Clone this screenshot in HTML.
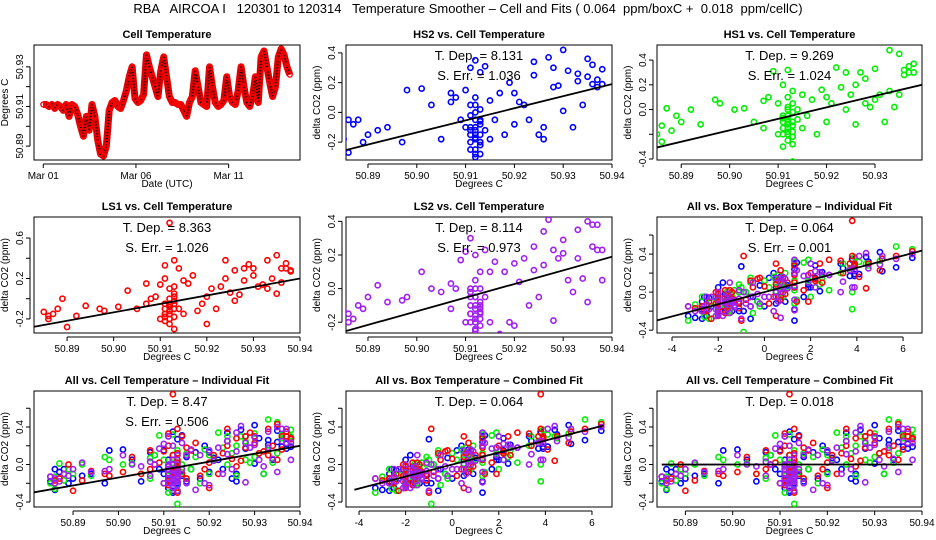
<!DOCTYPE html>
<html><head><meta charset="utf-8"><style>
html,body{margin:0;padding:0;background:#fff;}
svg{display:block;font-family:"Liberation Sans",sans-serif;}
</style></head><body>
<svg id="chart" width="936" height="540" viewBox="0 0 936 540">
<text x="468" y="13" text-anchor="middle" font-size="13" xml:space="preserve">RBA   AIRCOA I   120301 to 120314   Temperature Smoother – Cell and Fits ( 0.064  ppm/boxC +  0.018  ppm/cellC)</text>
</svg>
<script>
// ---- data ----
const cellTempSeries = [
50.911,50.911,50.910,50.911,50.909,50.911,
50.910,50.908,50.911,50.905,50.911,50.910,
50.906,50.900,50.895,50.905,50.898,50.911,
50.905,50.893,50.886,50.885,50.890,50.908,
50.912,50.913,50.910,50.909,50.913,50.918,
50.925,50.930,50.914,50.912,50.913,50.916,
50.936,50.930,50.925,50.920,50.915,50.928,
50.935,50.925,50.915,50.912,50.912,50.911,
50.911,50.908,50.905,50.912,50.915,50.928,
50.920,50.912,50.911,50.910,50.930,50.920,
50.912,50.910,50.911,50.913,50.925,50.915,
50.912,50.911,50.918,50.930,50.920,50.912,
50.910,50.915,50.925,50.912,50.935,50.938,
50.930,50.922,50.915,50.920,50.935,50.939,
50.936,50.930,50.926];
const seriesStepDays = 13.3/86;
const dateTicks = [0,5,10];
const dateTickLabels = ["Mar 01","Mar 06","Mar 11"];
const cellT = [
50.885,50.886,50.886,50.887,50.888,50.889,50.890,50.892,50.894,50.897,50.898,50.901,50.903,50.905,50.907,50.907,50.908,50.909,
50.910,50.910,50.911,50.911,50.911,50.912,50.912,50.912,50.912,50.913,50.913,50.913,50.913,50.914,50.914,50.915,50.915,50.916,
50.917,50.918,50.919,50.920,50.920,50.921,50.922,50.923,50.924,50.924,50.925,50.926,50.926,50.927,50.928,50.928,50.929,50.930,
50.930,50.931,50.932,50.933,50.933,50.934,50.935,50.935,50.936,50.936,50.937,50.937,50.938,50.938,
50.911,50.911,50.911,50.912,50.912,50.912,50.912,50.912,50.913,50.913,50.913,50.913,50.912,50.911,50.912,50.913,50.912,50.911,50.912,50.913];
const boxT = [-2.5,-3.0,-2.6,-1.6,-1.6,-1.4,-2.3,-1.1,-1.4,-1.1,0.2,0.7,0.5,-1.6,0.7,-0.2,0.8,1.7,
-2.7,2.2,3.3,-3.3,2.0,-0.6,3.8,1.3,-1.8,-0.9,-1.0,-0.5,-0.6,1.4,0.5,1.9,-2.7,0.8,
0.7,-1.5,0.4,0.5,-1.5,1.0,1.9,0.6,3.8,3.4,0.0,1.3,0.9,4.4,3.7,1.3,2.8,5.0,
2.4,2.2,-0.3,5.7,2.5,1.3,6.4,1.3,4.5,4.1,5.1,3.9,3.9,3.9,
-2.0,-2.7,-1.4,-2.5,-2.1,-0.8,-2.1,-2.0,-2.0,-2.0,-1.3,-1.6,-2.7,-1.7,-1.3,-1.7,-2.0,-1.6,-1.7,-2.4];
const hs2 = [-0.18,-0.27,-0.05,-0.08,-0.05,-0.2,-0.15,-0.12,-0.1,-0.2,0.15,0.16,0.05,-0.18,0.13,0.07,0.1,-0.05,
-0.1,0.15,0.3,-0.25,0.05,-0.15,0.35,-0.3,0.1,-0.2,0.27,-0.05,-0.28,0.31,-0.12,0.08,-0.18,-0.05,
0.13,-0.15,0.2,0.13,-0.08,0.07,0.05,-0.05,0.34,0.25,-0.15,-0.18,-0.1,0.37,0.17,0.3,0.18,0.42,
0.01,0.28,-0.1,0.26,0.21,0.05,0.36,0.24,0.32,0.19,0.22,0.17,0.29,0.19,
-0.2,-0.15,-0.1,-0.25,-0.05,0.0,-0.12,-0.18,-0.22,-0.08,0.02,-0.15,-0.28,-0.02,-0.1,-0.2,0.05,-0.12,-0.17,-0.06];
const hs1 = [-0.2,-0.13,-0.26,0.01,-0.17,-0.05,-0.1,0.0,-0.12,0.08,0.05,0.0,0.01,-0.1,0.07,-0.15,0.1,0.31,
-0.2,0.05,0.2,-0.3,-0.05,0.1,-0.18,0.32,-0.1,-0.42,0.05,-0.22,0.15,-0.08,0.0,0.12,-0.15,-0.05,
0.08,-0.2,0.16,0.1,-0.1,0.05,0.34,0.18,0.0,0.3,0.12,-0.12,0.2,0.3,0.25,0.05,0.02,0.33,
0.08,0.12,-0.1,0.48,0.15,0.02,0.45,0.12,0.28,0.32,0.35,0.3,0.37,0.3,
-0.1,-0.2,-0.05,-0.15,-0.25,0.0,-0.12,-0.08,-0.18,-0.02,-0.1,-0.22,-0.05,-0.15,0.02,-0.13,-0.2,-0.07,-0.1,-0.28];
const ls1 = [-0.13,-0.17,-0.2,-0.15,-0.1,0.0,-0.28,-0.17,-0.07,-0.1,-0.12,-0.08,0.08,-0.1,-0.05,0.15,0.0,0.02,
-0.2,0.14,0.33,-0.15,0.2,-0.05,0.75,0.1,-0.2,0.38,-0.3,0.05,0.12,-0.1,0.3,0.18,-0.15,0.15,
0.23,-0.12,-0.05,-0.25,0.02,0.1,-0.1,0.12,0.38,0.2,0.06,0.28,-0.02,0.04,0.3,0.18,0.34,0.23,
0.3,0.12,0.14,0.38,0.1,0.2,0.43,0.05,0.3,0.16,0.35,0.3,0.28,0.27,
-0.05,-0.15,-0.1,-0.2,0.0,-0.08,-0.12,-0.25,-0.02,-0.18,-0.1,-0.05,-0.15,-0.22,-0.08,0.02,-0.12,-0.18,-0.06,-0.1];
const ls2 = [-0.13,-0.2,-0.15,-0.18,-0.1,-0.12,-0.05,0.02,-0.08,-0.07,-0.05,0.1,0.0,-0.02,0.03,-0.12,0.0,0.17,
-0.2,0.22,0.0,-0.15,0.3,-0.05,0.05,0.2,-0.25,0.0,-0.28,0.1,-0.15,0.23,-0.05,0.1,-0.2,0.16,
-0.27,0.1,-0.2,0.15,-0.22,0.04,0.18,-0.1,0.25,0.11,-0.05,0.34,0.14,0.41,0.23,-0.19,0.18,0.29,
0.21,0.05,-0.02,0.35,0.18,0.06,0.4,-0.08,0.25,0.38,0.38,0.23,0.05,0.23,
-0.15,-0.2,-0.1,-0.05,-0.25,-0.12,-0.18,0.0,-0.08,-0.22,-0.14,-0.1,-0.2,-0.05,-0.16,-0.12,-0.24,-0.02,-0.1,-0.18];
const cellTicks = [50.89,50.90,50.91,50.92,50.93,50.94];
const boxTicks = [-4,-2,0,2,4,6];
const fitSlopes = [8.131, 9.269, 8.363, 8.114, 0.064, 8.47, 0.064, 0.018];
const fitErrors = [1.036, 1.024, 1.026, 0.973, 0.001, 0.506];

const NS="http://www.w3.org/2000/svg";
const svg=document.getElementById('chart');
function mk(tag,attrs,parent){const e=document.createElementNS(NS,tag);for(const k in attrs)e.setAttribute(k,attrs[k]);(parent||svg).appendChild(e);return e;}
function scale(d0,d1,r0,r1){return v=>r0+(v-d0)/(d1-d0)*(r1-r0);}

function frame(g,b,title,name){
  const r=mk('rect',{x:b[0],y:b[1],width:b[2]-b[0],height:b[3]-b[1],fill:'none',stroke:'#000','stroke-width':1},g);
  
  
  const t=mk('text',{x:(b[0]+b[2])/2,y:b[1]-7,'text-anchor':'middle','font-size':11,'font-weight':'bold'},g);
  t.textContent=title;
  
  
}
function xAxis(g,b,xs,ticks,labels,title,name){
  const y=b[3]+4;
  const ax=mk('g',{},g);
  
  
  const vis=ticks.filter(t=>xs(t)>=b[0]-1&&xs(t)<=b[2]+1);
  mk('line',{x1:xs(vis[0]),x2:xs(vis[vis.length-1]),y1:y,y2:y,stroke:'#000'},ax);
  ticks.forEach((t,i)=>{const x=xs(t);if(x<b[0]-1||x>b[2]+1)return;
    mk('line',{x1:x,x2:x,y1:y,y2:y+4,stroke:'#000'},ax);
    const tx=mk('text',{x:x,y:y+15,'text-anchor':'middle','font-size':10},ax);tx.textContent=labels[i];
    
    });
  const tt=mk('text',{x:(b[0]+b[2])/2,y:b[3]+27,'text-anchor':'middle','font-size':10},g);tt.textContent=title;
  
  
}
function yAxis(g,b,ys,ticks,labels,title,name){
  const x=b[0]-4;
  const ax=mk('g',{},g);
  
  
  const vis=ticks.filter(t=>ys(t)>=b[1]-1&&ys(t)<=b[3]+1);
  mk('line',{x1:x,x2:x,y1:ys(vis[0]),y2:ys(vis[vis.length-1]),stroke:'#000'},ax);
  ticks.forEach((t,i)=>{const y=ys(t);if(y<b[1]-1||y>b[3]+1)return;
    mk('line',{x1:x,x2:x-4,y1:y,y2:y,stroke:'#000'},ax);
    if(labels[i]){const tx=mk('text',{x:x-7,y:y,'text-anchor':'middle','font-size':10,transform:`rotate(-90 ${x-7} ${y})`},ax);tx.textContent=labels[i];
    
    }});
  const tt=mk('text',{x:b[0]-26,y:(b[1]+b[3])/2,'text-anchor':'middle','font-size':10,transform:`rotate(-90 ${b[0]-26} ${(b[1]+b[3])/2})`},g);tt.textContent=title;
  
  
}
function points(g,xsArr,ysArr,xs,ys,color,name){
  const pg=mk('g',{},g);
  
  
  xsArr.forEach((v,i)=>{const c=mk('circle',{cx:xs(v),cy:ys(ysArr[i]),r:2.6,fill:'none',stroke:color,'stroke-width':1.6},pg);
    
    });
}
function fitLine(g,b,xs,ys,x0,x1,slope,pivot,name){
  const l=mk('line',{x1:xs(x0),y1:ys(slope*(x0-pivot)),x2:xs(x1),y2:ys(slope*(x1-pivot)),stroke:'#000','stroke-width':1.8},g);
  
  
}
function stats(g,b,slope,err,name){
  const cx=(b[0]+b[2])/2;
  const t=mk('text',{x:cx,y:b[1]+15,'text-anchor':'middle','font-size':13,'xml:space':'preserve'},g);
  t.textContent='T. Dep. =  '+slope;
  
  
  if(err!==undefined){const s=mk('text',{x:cx,y:b[1]+35,'text-anchor':'middle','font-size':13},g);
    s.textContent='S. Err. =  '+err;
    
    }
}
function fmt(v){return v.toFixed(2);}
function fmt1(v){return v.toFixed(1);}

// ---- panel 1: time series ----
(function(){
  const b=[34,45,300,160];
  const g=mk('g',{});
  const xs=scale(-0.5,13.85,b[0],b[2]), ys=scale(50.883,50.941,b[3],b[1]);
  frame(g,b,'Cell Temperature','cell-temperature');
  xAxis(g,b,xs,dateTicks,dateTickLabels,'Date (UTC)','cell-temperature');
  const yt=[50.89,50.90,50.91,50.92,50.93];
  yAxis(g,b,ys,yt,yt.map((v,i)=>i%2===0?fmt(v):''),'Degrees C','cell-temperature');
  const pts=cellTempSeries.map((v,i)=>xs(i*seriesStepDays)+','+ys(v)).join(' ');
  const pl=mk('polyline',{points:pts,fill:'none',stroke:'#e00000','stroke-width':7,'stroke-linejoin':'round'},g);
  
  
  const pl2=mk('polyline',{points:pts,fill:'none',stroke:'#000','stroke-width':2,'stroke-dasharray':'1 2'},g);
  
  
  cellTempSeries.forEach((v,i)=>{const c=mk('circle',{cx:xs(i*seriesStepDays),cy:ys(v),r:2.4,fill:'none',stroke:'#ff0000','stroke-width':1.4},g);
    
    });
})();

const species=[{d:hs2,c:'#0000ff',n:'hs2'},{d:hs1,c:'#00ee00',n:'hs1'},{d:ls1,c:'#ff0000',n:'ls1'},{d:ls2,c:'#a020f0',n:'ls2'}];
function scatterPanel(o){
  const b=o.b;
  const g=mk('g',{});
  const xs=scale(o.xr[0],o.xr[1],b[0],b[2]), ys=scale(o.yr[0],o.yr[1],b[3],b[1]);
  frame(g,b,o.title,o.name);
  const xt=o.box?boxTicks:cellTicks;
  xAxis(g,b,xs,xt,xt.map(v=>o.box?String(v):fmt(v)),'Degrees C',o.name);
  yAxis(g,b,ys,o.yt,o.ytl,'delta CO2 (ppm)',o.name);
  const clip='clip-'+o.name;
  const cp=mk('clipPath',{id:clip},g);mk('rect',{x:b[0],y:b[1],width:b[2]-b[0],height:b[3]-b[1]},cp);
  const inner=mk('g',{'clip-path':`url(#${clip})`},g);
  o.sp.forEach(s=>points(inner,o.box?boxT:cellT,s.d,xs,ys,s.c,o.name+'-'+s.n+'-points'));
  fitLine(inner,b,xs,ys,o.lx[0],o.lx[1],o.slope,o.pivot,o.name);
  stats(g,b,o.slope,o.err,o.name);
}
const ytA=[-0.2,0,0.2,0.4], ytB=[-0.4,-0.2,0,0.2,0.4,0.6];
scatterPanel({name:'hs2',title:'HS2 vs. Cell Temperature',b:[346,45,612,160],xr:[50.8855,50.94],yr:[-0.32,0.453],yt:ytA,ytl:ytA.map(fmt1),sp:[species[0]],lx:[50.8855,50.94],slope:fitSlopes[0],pivot:50.9166,err:fitErrors[0]});
scatterPanel({name:'hs1',title:'HS1 vs. Cell Temperature',b:[657,45,922,160],xr:[50.885,50.9397],yr:[-0.408,0.522],yt:[-0.4,-0.2,0,0.2,0.4],ytl:['-0.4','','0.0','0.2','0.4'],sp:[species[1]],lx:[50.885,50.9397],slope:fitSlopes[1],pivot:50.9181,err:fitErrors[1]});
scatterPanel({name:'ls1',title:'LS1 vs. Cell Temperature',b:[34,217,300,333],xr:[50.8829,50.94],yr:[-0.339,0.808],yt:[-0.2,0,0.2,0.4,0.6],ytl:['-0.2','','0.2','','0.6'],sp:[species[2]],lx:[50.8829,50.94],slope:fitSlopes[2],pivot:50.9161,err:fitErrors[2]});
scatterPanel({name:'ls2',title:'LS2 vs. Cell Temperature',b:[346,217,612,333],xr:[50.8855,50.94],yr:[-0.264,0.426],yt:ytA,ytl:ytA.map(fmt1),sp:[species[3]],lx:[50.8855,50.94],slope:fitSlopes[3],pivot:50.9166,err:fitErrors[3]});
scatterPanel({name:'all-box-individual',title:'All vs. Box Temperature – Individual Fit',box:true,b:[657,217,922,333],xr:[-4.65,6.82],yr:[-0.43,0.79],yt:ytB,ytl:['-0.4','','0.0','','0.4',''],sp:species,lx:[-4.65,6.82],slope:fitSlopes[4],pivot:0,err:fitErrors[4]});
scatterPanel({name:'all-cell-individual',title:'All vs. Cell Temperature – Individual Fit',b:[34,391,300,507],xr:[50.8814,50.94],yr:[-0.453,0.784],yt:ytB,ytl:['-0.4','','0.0','','0.4',''],sp:species,lx:[50.8814,50.94],slope:fitSlopes[5],pivot:50.9164,err:fitErrors[5]});
scatterPanel({name:'all-box-combined',title:'All vs. Box Temperature – Combined Fit',box:true,b:[346,391,612,507],xr:[-4.56,6.86],yr:[-0.453,0.784],yt:ytB,ytl:['-0.4','','0.0','','0.4',''],sp:species,lx:[-4.2,6.5],slope:fitSlopes[6],pivot:0});
scatterPanel({name:'all-cell-combined',title:'All vs. Cell Temperature – Combined Fit',b:[657,391,922,507],xr:[50.884,50.94],yr:[-0.453,0.784],yt:ytB,ytl:['-0.4','','0.0','','0.4',''],sp:species,lx:[50.885,50.938],slope:fitSlopes[7],pivot:50.911});
</script>
</body></html>
